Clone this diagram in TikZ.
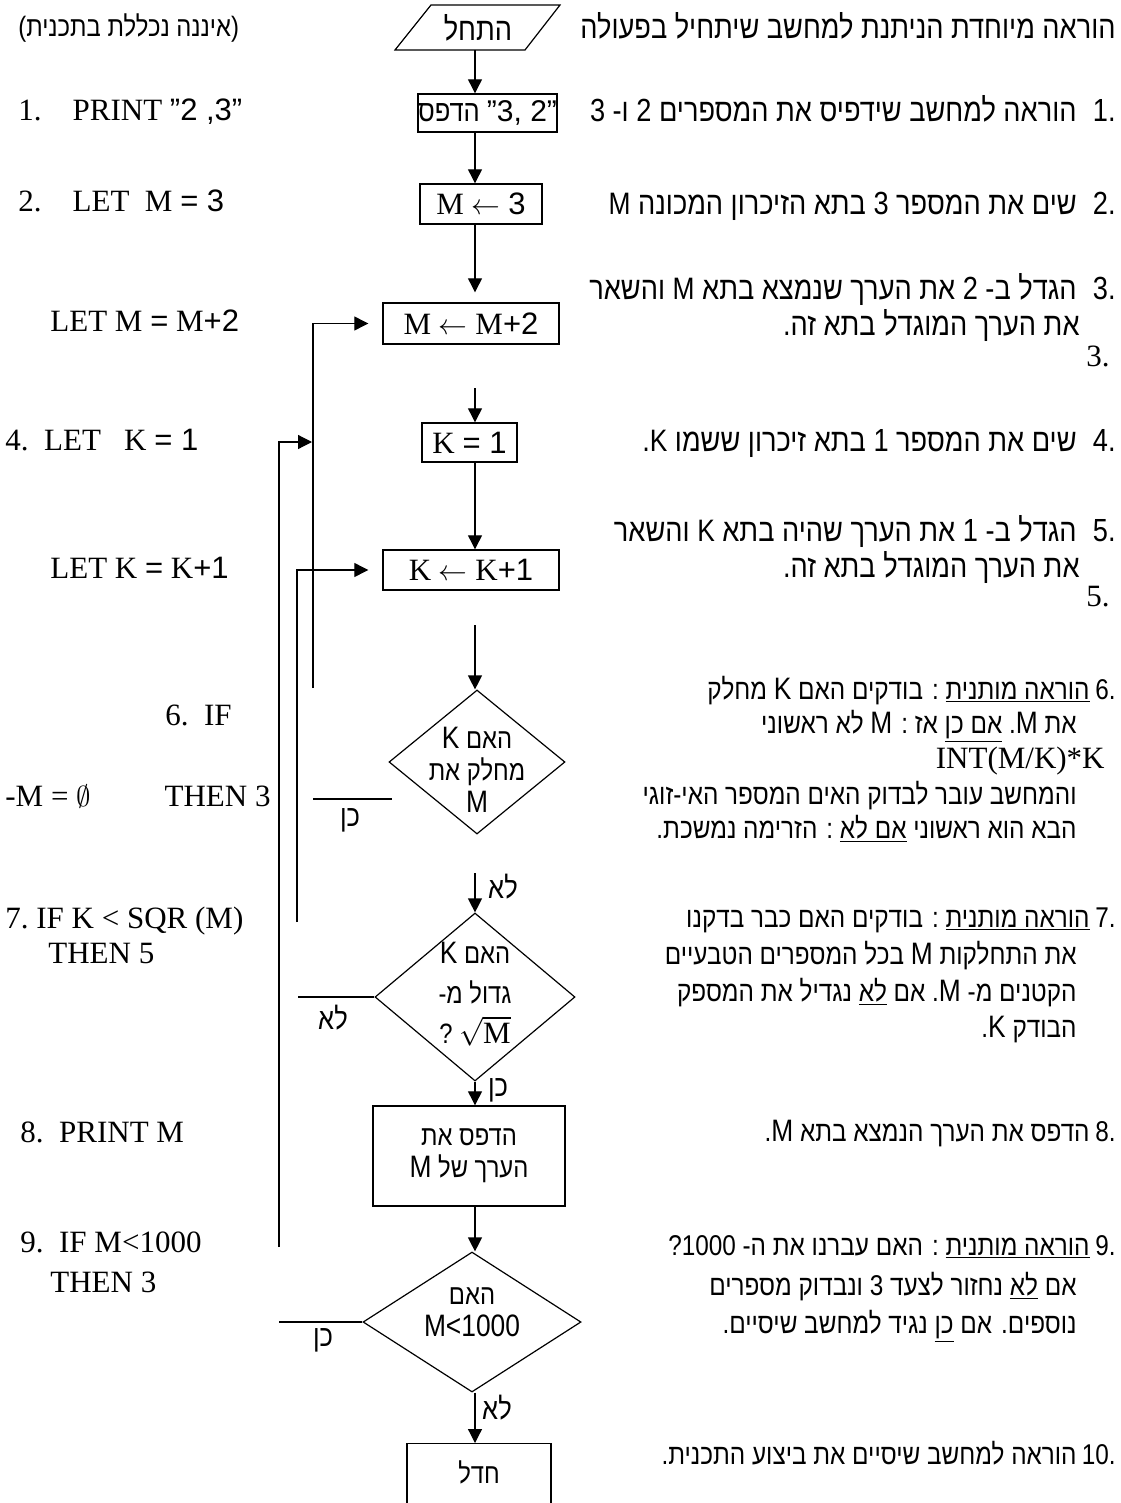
\documentclass[tikz,border=0pt]{standalone}
\usepackage{fontspec}
\usepackage{tikz}
\usetikzlibrary{arrows.meta, shapes.geometric}
\setmainfont{Liberation Serif}
\newfontfamily\hebfont[Script=Hebrew, FakeStretch=0.85]{Liberation Sans}
\newfontfamily\numfont{Liberation Sans}
\TeXXeTstate=1
\newcommand{\latfont}{\fontsize{15.5}{18}\selectfont}
\newcommand{\hebbig}{\fontsize{16}{18}\hebfont}
\newcommand{\hebbody}{\fontsize{14.3}{16}\hebfont}
\newcommand{\heb}[1]{\beginR#1\endR}
\newcommand{\hul}[1]{\underline{\beginR#1\endR}}
\newcommand{\lt}[1]{{\latfont #1}}
\newcommand{\nf}[1]{{\numfont #1}}

\begin{document}
\begin{tikzpicture}[x=0.5pt, y=-0.5pt,
  box/.style={draw, line width=0.7pt, inner sep=0pt, font=\latfont},
  dia/.style={draw, diamond, line width=0.6pt, inner sep=0pt},
  flow/.style={-{Triangle[length=7pt, width=7pt]}, line width=0.6pt},
  wire/.style={line width=0.6pt},
  lat/.style={font=\latfont, inner sep=0pt, text height=11pt, text depth=3pt},
  heb/.style={font=\hebbody, inner sep=0pt, text height=10pt, text depth=3pt},
  hebup/.style={font=\hebbig, inner sep=0pt, text height=12pt, text depth=3pt},
  lbl/.style={font=\fontsize{15}{17}\hebfont, inner sep=0pt}]
\useasboundingbox (0,0) rectangle (1120,1503);
\clip (0,0) rectangle (1120,1503);

% Start symbol (a slanted box):
\draw[wire] (431,5) -- (560,5) -- (525,50) -- (395,50) -- cycle;
\node[font=\fontsize{16}{18}\hebfont] (start) at (478,28) {התחל};
\coordinate (startout) at (475,50);
\coordinate (ax) at (475,0);

% The boxes of the flow chart:
\node[box, minimum width=69.5pt, minimum height=19pt, font=\fontsize{15}{17}\hebfont] (print1) at (487.5,113) {\beginR{\numfont 2” ”3,} הדפס\endR};
\node[box, minimum width=61pt, minimum height=20pt] (set3) at (481,204) {M $\leftarrow$ \nf{3}};
\node[box, minimum width=88pt, minimum height=20.5pt] (addtwo) at (471,323.5) {M $\leftarrow$ M\nf{+2}};
\node[box, minimum width=47.5pt, minimum height=19.5pt] (setk) at (469.5,442.5) {K \nf{= 1}};
\node[box, minimum width=88pt, minimum height=20pt] (addone) at (471,570) {K $\leftarrow$ K\nf{+1}};
\node[box, minimum width=96pt, minimum height=50pt, align=center, font=\fontsize{14}{16}\hebfont] (printm) at (469,1156) {\heb{הדפס את}\\ \heb{הערך של \lt{M}}};
\node[box, minimum width=72pt, minimum height=40pt, anchor=north] (halt) at (479,1443) {};
\node[font=\fontsize{14}{16}\hebfont] (haltt) at (479,1472) {חדל};

% The three questions:
\node[dia, minimum width=88pt, minimum height=72pt] (divq) at (477,762) {};
\node[dia, minimum width=100pt, minimum height=84pt] (sqrq) at (475,997) {};
\node[dia, minimum width=109pt, minimum height=70pt] (limq) at (472,1322) {};
\node[align=center, font=\fontsize{14}{16}\hebfont] (divqt) at (477,770) {\heb{האם \lt{K}}\\ \heb{מחלק את}\\ \lt{M}};
\node[align=center, font=\fontsize{14}{16}\hebfont] (sqrqt) at (475,994) {\heb{האם \lt{K}}\\[4pt] \heb{גדול מ-}\\[4pt] \heb{\lt{$\sqrt{\mathrm{M}}$} ?}};
\node[align=center, font=\fontsize{14}{16}\hebfont] (limqt) at (472,1312) {\heb{האם}\\ \lt{M<1000}};

% Arrows down the middle:
\draw[flow] (startout) -- (startout |- print1.north);
\draw[flow] (print1.south -| ax) -- (set3.north -| ax);
\draw[flow, shorten >=5pt] (set3.south -| ax) -- (addtwo.north -| ax);
\coordinate (gap1) at (475,388);
\draw[flow] (gap1) -- (setk.north -| ax);
\draw[flow] (setk.south -| ax) -- (addone.north -| ax);
\coordinate (gap2) at (475,625);
\draw[flow] (gap2) -- (divq.north -| ax);
\coordinate (gap3) at (475,873);
\draw[flow] (gap3) -- (sqrq.north);
\draw[flow] (sqrq.south) -- (printm.north -| sqrq.south);
\draw[flow] (printm.south -| ax) -- (limq.north -| ax);
\draw[flow] (limq.south -| ax) -- (halt.north -| ax);

% Lines back up on the left:
\coordinate (up1) at (313,688);
\draw[flow, shorten >=7pt] (up1) |- (addtwo.west);
\coordinate (up2) at (297,922);
\draw[flow, shorten >=7pt] (up2) |- (addone.west);
\coordinate (up3) at (279,1247);
\coordinate (join) at (312,442);
\draw[flow] (up3) |- (join);

% Short lines leaving the questions:
\coordinate (yesa) at (313,799);
\coordinate (yesb) at (392,799);
\draw[wire] (yesa) -- (yesb);
\coordinate (nob) at (298,997);
\draw[wire] (sqrq.west) -- (nob);
\coordinate (yesc) at (279,1322);
\draw[wire] (limq.west) -- (yesc);

% Yes / no labels:
\node[lbl] (yes1) at (350,820) {כן};
\node[lbl] (no1) at (503,887) {לא};
\node[lbl] (no2) at (333,1018) {לא};
\node[lbl] (yes2) at (498,1090) {כן};
\node[lbl] (yes3) at (323,1340) {כן};
\node[lbl] (no3) at (497,1408) {לא};

% Program lines on the left:
\node[font=\fontsize{14}{16}\hebfont, inner sep=0pt, text height=10pt, text depth=3pt, anchor=west] (note) at (18,30) {\heb{(איננה נכללת בתכנית)}};
\node[lat, anchor=west] (p1) at (18,113) {1.\quad PRINT {\numfont ”2 ,3”}};
\node[lat, anchor=west] (p2) at (18,204) {2.\quad LET\ \ M \nf{= 3}};
\node[lat, anchor=west] (p3) at (50,323) {LET M \nf{=} M\nf{+2}};
\node[lat, anchor=west] (p4) at (5,442) {4.\ \ LET\ \ \ K \nf{= 1}};
\node[lat, anchor=west] (p5) at (50,570) {LET K \nf{=} K\nf{+1}};
\node[lat, anchor=west] (p6) at (165,717) {6.\ \ IF};
\node[lat, anchor=west] (p6b) at (5,798) {-M = $\emptyset$\hspace{37pt}THEN 3};
\node[lat, anchor=west] (p7) at (5,920) {7.\ IF K < SQR (M)};
\node[lat, anchor=west] (p7b) at (48,955) {THEN 5};
\node[lat, anchor=west] (p8) at (20,1134) {8.\ \ PRINT M};
\node[lat, anchor=west] (p9) at (20,1244) {9.\ \ IF M<1000};
\node[lat, anchor=west] (p9b) at (50,1284) {THEN 3};

% Explanations on the right (steps 1 to 5):
\node[hebup, anchor=east] (title) at (1116,30) {\heb{הוראה מיוחדת הניתנת למחשב שיתחיל בפעולה}};
\foreach \n/\y in {1/113, 2/205, 3/290, 4/442, 5/532}
  \node[hebup, anchor=east] (num\n) at (1116,\y) {.\n};
\node[hebup, anchor=east] (s1) at (1077,113) {\heb{הוראה למחשב שידפיס את המספרים 2 ו- 3}};
\node[hebup, anchor=east] (s2) at (1077,205) {\heb{שים את המספר 3 בתא הזיכרון המכונה \lt{M}}};
\node[hebup, anchor=east] (s3a) at (1077,290) {\heb{הגדל ב- 2 את הערך שנמצא בתא \lt{M} והשאר}};
\node[hebup, anchor=east] (s3b) at (1080,326) {\heb{את הערך המוגדל בתא זה.}};
\node[lat, anchor=east] (s3n) at (1110,358) {3.};
\node[hebup, anchor=east] (s4) at (1077,442) {\heb{שים את המספר 1 בתא זיכרון ששמו \lt{K}.}};
\node[hebup, anchor=east] (s5a) at (1077,532) {\heb{הגדל ב- 1 את הערך שהיה בתא \lt{K} והשאר}};
\node[hebup, anchor=east] (s5b) at (1080,568) {\heb{את הערך המוגדל בתא זה.}};
\node[lat, anchor=east] (s5n) at (1110,598) {5.};

% Explanations on the right (steps 6 to 10):
\foreach \n/\y in {6/692, 7/920, 8/1134, 9/1248, 10/1457}
  \node[heb, anchor=east] (num\n) at (1116,\y) {.\n};
\node[heb, anchor=east] (s6a) at (1090,692) {\heb{\hul{הוראה מותנית} : בודקים האם \lt{K} מחלק}};
\node[heb, anchor=east] (s6b) at (1077,726) {\heb{את \lt{M}. \hul{אם כן} אז : \lt{M} לא ראשוני}};
\node[lat, anchor=east] (s6c) at (1105,760) {INT(M/K)*K};
\node[heb, anchor=east] (s6d) at (1077,797) {\heb{והמחשב עובר לבדוק האים המספר האי-זוגי}};
\node[heb, anchor=east] (s6e) at (1077,831) {\heb{הבא הוא ראשוני \hul{אם לא} : הזרימה נמשכת.}};
\node[heb, anchor=east] (s7a) at (1090,920) {\heb{\hul{הוראה מותנית} : בודקים האם כבר בדקנו}};
\node[heb, anchor=east] (s7b) at (1077,957) {\heb{את התחלקות \lt{M} בכל המספרים הטבעיים}};
\node[heb, anchor=east] (s7c) at (1077,994) {\heb{הקטנים מ- \lt{M}. אם \hul{לא} נגדיל את המספק}};
\node[heb, anchor=east] (s7d) at (1077,1030) {\heb{הבודק \lt{K}.}};
\node[heb, anchor=east] (s8) at (1090,1134) {\heb{הדפס את הערך הנמצא בתא \lt{M}.}};
\node[heb, anchor=east] (s9a) at (1090,1248) {\heb{\hul{הוראה מותנית} : האם עברנו את ה- 1000?}};
\node[heb, anchor=east] (s9b) at (1077,1288) {\heb{אם \hul{לא} נחזור לצעד 3 ונבדוק מספרים}};
\node[heb, anchor=east] (s9c) at (1077,1326) {\heb{נוספים. אם \hul{כן} נגיד למחשב שיסיים.}};
\node[heb, anchor=east] (s10) at (1077,1457) {\heb{הוראה למחשב שיסיים את ביצוע התכנית.}};
\end{tikzpicture}
\end{document}
